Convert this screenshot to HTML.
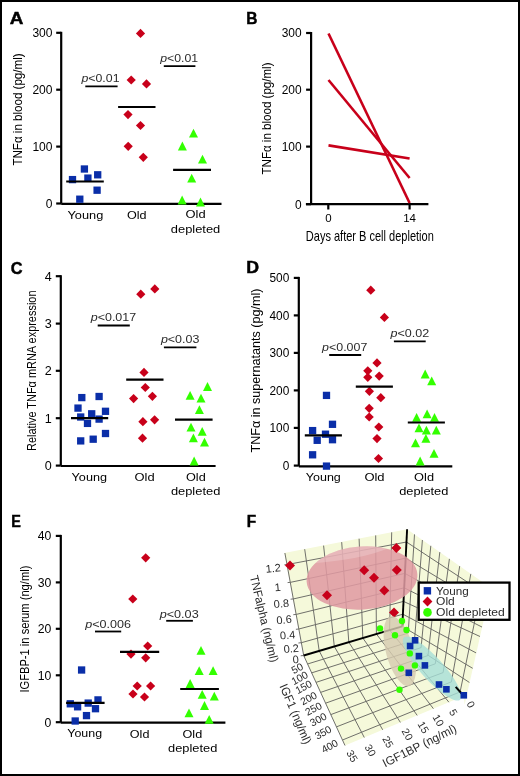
<!DOCTYPE html>
<html><head><meta charset="utf-8"><style>
html,body{margin:0;padding:0;background:#fff;}
svg{display:block;will-change:transform;}
text{font-family:"Liberation Sans", sans-serif;}
</style></head><body>
<svg width="520" height="776" viewBox="0 0 520 776">
<rect width="520" height="776" fill="#fff"/>
<rect x="1" y="1" width="518" height="774" fill="none" stroke="#000" stroke-width="2"/>
<text x="9.7" y="23.9" font-size="16" font-weight="bold" fill="#000" stroke="#000" stroke-width="0.45" textLength="13.6" lengthAdjust="spacingAndGlyphs">A</text>
<text x="246.3" y="23.9" font-size="16" font-weight="bold" fill="#000" stroke="#000" stroke-width="0.45" textLength="11.2" lengthAdjust="spacingAndGlyphs">B</text>
<text x="10.7" y="273.6" font-size="16" font-weight="bold" fill="#000" stroke="#000" stroke-width="0.45" textLength="11.8" lengthAdjust="spacingAndGlyphs">C</text>
<text x="246.3" y="272.9" font-size="16" font-weight="bold" fill="#000" stroke="#000" stroke-width="0.45" textLength="12.8" lengthAdjust="spacingAndGlyphs">D</text>
<text x="11.3" y="527.0" font-size="16" font-weight="bold" fill="#000" stroke="#000" stroke-width="0.45" textLength="9.6" lengthAdjust="spacingAndGlyphs">E</text>
<text x="246.7" y="527.0" font-size="16" font-weight="bold" fill="#000" stroke="#000" stroke-width="0.45" textLength="9.4" lengthAdjust="spacingAndGlyphs">F</text>
<line x1="61.20" y1="31.80" x2="61.20" y2="203.50" stroke="#000" stroke-width="2.2"/>
<line x1="56.20" y1="32.80" x2="61.20" y2="32.80" stroke="#000" stroke-width="2.2"/>
<text x="32.40" y="37.10" font-size="12" textLength="20.10" lengthAdjust="spacingAndGlyphs">300</text>
<line x1="56.20" y1="89.70" x2="61.20" y2="89.70" stroke="#000" stroke-width="2.2"/>
<text x="32.40" y="94.00" font-size="12" textLength="20.10" lengthAdjust="spacingAndGlyphs">200</text>
<line x1="56.20" y1="146.60" x2="61.20" y2="146.60" stroke="#000" stroke-width="2.2"/>
<text x="32.40" y="150.90" font-size="12" textLength="20.10" lengthAdjust="spacingAndGlyphs">100</text>
<line x1="56.20" y1="203.50" x2="61.20" y2="203.50" stroke="#000" stroke-width="2.2"/>
<text x="45.80" y="207.80" font-size="12" textLength="6.70" lengthAdjust="spacingAndGlyphs">0</text>
<line x1="61.20" y1="203.90" x2="221.50" y2="203.90" stroke="#000" stroke-width="2.2"/>
<text x="22.50" y="165.60" font-size="13.5" textLength="112.20" lengthAdjust="spacingAndGlyphs" transform="rotate(-90 22.50 165.60)">TNFα in blood (pg/ml)</text>
<rect x="68.85" y="175.95" width="7.3" height="7.3" fill="#0a2ea8"/>
<rect x="80.75" y="165.35" width="7.3" height="7.3" fill="#0a2ea8"/>
<rect x="84.25" y="174.45" width="7.3" height="7.3" fill="#0a2ea8"/>
<rect x="94.05" y="171.15" width="7.3" height="7.3" fill="#0a2ea8"/>
<rect x="93.45" y="186.55" width="7.3" height="7.3" fill="#0a2ea8"/>
<rect x="76.15" y="195.55" width="7.3" height="7.3" fill="#0a2ea8"/>
<path d="M140.50 28.80L145.10 33.40L140.50 38.00L135.90 33.40Z" fill="#c8001a"/>
<path d="M131.20 75.40L135.80 80.00L131.20 84.60L126.60 80.00Z" fill="#c8001a"/>
<path d="M146.50 79.30L151.10 83.90L146.50 88.50L141.90 83.90Z" fill="#c8001a"/>
<path d="M128.00 110.00L132.60 114.60L128.00 119.20L123.40 114.60Z" fill="#c8001a"/>
<path d="M140.50 120.90L145.10 125.50L140.50 130.10L135.90 125.50Z" fill="#c8001a"/>
<path d="M128.20 141.70L132.80 146.30L128.20 150.90L123.60 146.30Z" fill="#c8001a"/>
<path d="M143.30 152.70L147.90 157.30L143.30 161.90L138.70 157.30Z" fill="#c8001a"/>
<path d="M193.50 128.80L198.00 137.60L189.00 137.60Z" fill="#33ff00"/>
<path d="M182.40 141.60L186.90 150.40L177.90 150.40Z" fill="#33ff00"/>
<path d="M202.50 154.80L207.00 163.60L198.00 163.60Z" fill="#33ff00"/>
<path d="M191.70 173.80L196.20 182.60L187.20 182.60Z" fill="#33ff00"/>
<path d="M182.10 195.60L186.60 204.40L177.60 204.40Z" fill="#33ff00"/>
<path d="M200.50 197.60L205.00 206.40L196.00 206.40Z" fill="#33ff00"/>
<line x1="66.20" y1="181.50" x2="103.80" y2="181.50" stroke="#000" stroke-width="2.2"/>
<line x1="118.10" y1="107.00" x2="155.50" y2="107.00" stroke="#000" stroke-width="2.2"/>
<line x1="173.10" y1="169.80" x2="211.00" y2="169.80" stroke="#000" stroke-width="2.2"/>
<text x="81.50" y="81.70" font-size="11" textLength="38.00" lengthAdjust="spacingAndGlyphs" fill="#2b2b2b"><tspan font-style="italic">p</tspan>&lt;0.01</text>
<line x1="85.30" y1="86.30" x2="117.60" y2="86.30" stroke="#000" stroke-width="1.8"/>
<text x="160.30" y="61.90" font-size="11" textLength="37.90" lengthAdjust="spacingAndGlyphs" fill="#2b2b2b"><tspan font-style="italic">p</tspan>&lt;0.01</text>
<line x1="163.80" y1="66.20" x2="195.40" y2="66.20" stroke="#000" stroke-width="1.8"/>
<text x="67.50" y="218.50" font-size="11.8" textLength="35.80" lengthAdjust="spacingAndGlyphs">Young</text>
<text x="126.90" y="218.50" font-size="11.8" textLength="19.60" lengthAdjust="spacingAndGlyphs">Old</text>
<text x="185.50" y="218.40" font-size="11.8" textLength="20.10" lengthAdjust="spacingAndGlyphs">Old</text>
<text x="170.80" y="233.00" font-size="11.8" textLength="49.50" lengthAdjust="spacingAndGlyphs">depleted</text>
<line x1="311.10" y1="32.00" x2="311.10" y2="204.20" stroke="#000" stroke-width="2.2"/>
<line x1="306.10" y1="33.00" x2="311.10" y2="33.00" stroke="#000" stroke-width="2.2"/>
<text x="281.65" y="37.30" font-size="12" textLength="19.95" lengthAdjust="spacingAndGlyphs">300</text>
<line x1="306.10" y1="89.70" x2="311.10" y2="89.70" stroke="#000" stroke-width="2.2"/>
<text x="281.65" y="94.00" font-size="12" textLength="19.95" lengthAdjust="spacingAndGlyphs">200</text>
<line x1="306.10" y1="146.60" x2="311.10" y2="146.60" stroke="#000" stroke-width="2.2"/>
<text x="281.65" y="150.90" font-size="12" textLength="19.95" lengthAdjust="spacingAndGlyphs">100</text>
<line x1="306.10" y1="204.20" x2="311.10" y2="204.20" stroke="#000" stroke-width="2.2"/>
<text x="294.95" y="208.50" font-size="12" textLength="6.65" lengthAdjust="spacingAndGlyphs">0</text>
<line x1="305.90" y1="204.20" x2="428.40" y2="204.20" stroke="#000" stroke-width="2.2"/>
<line x1="328.30" y1="204.20" x2="328.30" y2="209.50" stroke="#000" stroke-width="2.2"/>
<line x1="409.60" y1="204.20" x2="409.60" y2="209.50" stroke="#000" stroke-width="2.2"/>
<text x="325.30" y="221.50" font-size="11" textLength="6.40" lengthAdjust="spacingAndGlyphs">0</text>
<text x="403.20" y="221.50" font-size="11" textLength="12.80" lengthAdjust="spacingAndGlyphs">14</text>
<text x="305.80" y="241.20" font-size="14.5" textLength="128.00" lengthAdjust="spacingAndGlyphs">Days after B cell depletion</text>
<text x="270.90" y="174.50" font-size="13.5" textLength="112.00" lengthAdjust="spacingAndGlyphs" transform="rotate(-90 270.90 174.50)">TNFα in blood (pg/ml)</text>
<line x1="328.50" y1="33.50" x2="409.60" y2="203.00" stroke="#c8001a" stroke-width="2.6"/>
<line x1="328.50" y1="80.00" x2="409.60" y2="178.00" stroke="#c8001a" stroke-width="2.6"/>
<line x1="328.50" y1="145.40" x2="409.60" y2="158.50" stroke="#c8001a" stroke-width="2.6"/>
<line x1="60.80" y1="275.20" x2="60.80" y2="465.60" stroke="#000" stroke-width="2.2"/>
<line x1="55.80" y1="276.20" x2="60.80" y2="276.20" stroke="#000" stroke-width="2.2"/>
<text x="44.70" y="280.50" font-size="12" textLength="7.00" lengthAdjust="spacingAndGlyphs">4</text>
<line x1="55.80" y1="323.60" x2="60.80" y2="323.60" stroke="#000" stroke-width="2.2"/>
<text x="44.70" y="327.90" font-size="12" textLength="7.00" lengthAdjust="spacingAndGlyphs">3</text>
<line x1="55.80" y1="370.80" x2="60.80" y2="370.80" stroke="#000" stroke-width="2.2"/>
<text x="44.70" y="375.10" font-size="12" textLength="7.00" lengthAdjust="spacingAndGlyphs">2</text>
<line x1="55.80" y1="418.20" x2="60.80" y2="418.20" stroke="#000" stroke-width="2.2"/>
<text x="44.70" y="422.50" font-size="12" textLength="7.00" lengthAdjust="spacingAndGlyphs">1</text>
<line x1="55.80" y1="465.60" x2="60.80" y2="465.60" stroke="#000" stroke-width="2.2"/>
<text x="44.70" y="469.90" font-size="12" textLength="7.00" lengthAdjust="spacingAndGlyphs">0</text>
<line x1="60.80" y1="466.00" x2="215.60" y2="466.00" stroke="#000" stroke-width="2.2"/>
<text x="35.90" y="451.00" font-size="13.5" textLength="160.50" lengthAdjust="spacingAndGlyphs" transform="rotate(-90 35.90 451.00)">Relative TNFα mRNA expression</text>
<rect x="78.15" y="393.95" width="7.3" height="7.3" fill="#0a2ea8"/>
<rect x="95.45" y="392.85" width="7.3" height="7.3" fill="#0a2ea8"/>
<rect x="74.35" y="404.45" width="7.3" height="7.3" fill="#0a2ea8"/>
<rect x="101.85" y="407.65" width="7.3" height="7.3" fill="#0a2ea8"/>
<rect x="77.05" y="413.35" width="7.3" height="7.3" fill="#0a2ea8"/>
<rect x="88.05" y="410.15" width="7.3" height="7.3" fill="#0a2ea8"/>
<rect x="83.85" y="419.75" width="7.3" height="7.3" fill="#0a2ea8"/>
<rect x="95.45" y="415.45" width="7.3" height="7.3" fill="#0a2ea8"/>
<rect x="101.85" y="429.85" width="7.3" height="7.3" fill="#0a2ea8"/>
<rect x="77.05" y="437.25" width="7.3" height="7.3" fill="#0a2ea8"/>
<rect x="89.55" y="435.55" width="7.3" height="7.3" fill="#0a2ea8"/>
<path d="M140.80 289.60L145.40 294.20L140.80 298.80L136.20 294.20Z" fill="#c8001a"/>
<path d="M154.80 284.30L159.40 288.90L154.80 293.50L150.20 288.90Z" fill="#c8001a"/>
<path d="M144.00 367.80L148.60 372.40L144.00 377.00L139.40 372.40Z" fill="#c8001a"/>
<path d="M145.30 382.90L149.90 387.50L145.30 392.10L140.70 387.50Z" fill="#c8001a"/>
<path d="M133.60 394.00L138.20 398.60L133.60 403.20L129.00 398.60Z" fill="#c8001a"/>
<path d="M152.40 391.70L157.00 396.30L152.40 400.90L147.80 396.30Z" fill="#c8001a"/>
<path d="M142.90 417.10L147.50 421.70L142.90 426.30L138.30 421.70Z" fill="#c8001a"/>
<path d="M154.60 415.20L159.20 419.80L154.60 424.40L150.00 419.80Z" fill="#c8001a"/>
<path d="M142.50 433.60L147.10 438.20L142.50 442.80L137.90 438.20Z" fill="#c8001a"/>
<path d="M207.50 382.10L212.00 390.90L203.00 390.90Z" fill="#33ff00"/>
<path d="M190.10 391.00L194.60 399.80L185.60 399.80Z" fill="#33ff00"/>
<path d="M201.00 393.70L205.50 402.50L196.50 402.50Z" fill="#33ff00"/>
<path d="M199.40 405.30L203.90 414.10L194.90 414.10Z" fill="#33ff00"/>
<path d="M191.00 422.70L195.50 431.50L186.50 431.50Z" fill="#33ff00"/>
<path d="M202.20 426.90L206.70 435.70L197.70 435.70Z" fill="#33ff00"/>
<path d="M193.40 433.40L197.90 442.20L188.90 442.20Z" fill="#33ff00"/>
<path d="M204.50 437.80L209.00 446.60L200.00 446.60Z" fill="#33ff00"/>
<path d="M194.10 456.60L198.60 465.40L189.60 465.40Z" fill="#33ff00"/>
<line x1="71.00" y1="418.10" x2="108.20" y2="418.10" stroke="#000" stroke-width="2.2"/>
<line x1="126.20" y1="379.60" x2="163.50" y2="379.60" stroke="#000" stroke-width="2.2"/>
<line x1="175.00" y1="419.70" x2="212.60" y2="419.70" stroke="#000" stroke-width="2.2"/>
<text x="90.70" y="321.10" font-size="11" textLength="45.50" lengthAdjust="spacingAndGlyphs" fill="#2b2b2b"><tspan font-style="italic">p</tspan>&lt;0.017</text>
<line x1="97.70" y1="325.50" x2="129.80" y2="325.50" stroke="#000" stroke-width="1.8"/>
<text x="160.90" y="342.90" font-size="11" textLength="38.50" lengthAdjust="spacingAndGlyphs" fill="#2b2b2b"><tspan font-style="italic">p</tspan>&lt;0.03</text>
<line x1="163.90" y1="347.40" x2="196.40" y2="347.40" stroke="#000" stroke-width="1.8"/>
<text x="71.60" y="480.50" font-size="11.8" textLength="35.40" lengthAdjust="spacingAndGlyphs">Young</text>
<text x="134.50" y="480.50" font-size="11.8" textLength="20.10" lengthAdjust="spacingAndGlyphs">Old</text>
<text x="186.00" y="480.70" font-size="11.8" textLength="19.70" lengthAdjust="spacingAndGlyphs">Old</text>
<text x="170.90" y="495.00" font-size="11.8" textLength="49.40" lengthAdjust="spacingAndGlyphs">depleted</text>
<line x1="298.80" y1="276.90" x2="298.80" y2="466.00" stroke="#000" stroke-width="2.2"/>
<line x1="293.80" y1="277.90" x2="298.80" y2="277.90" stroke="#000" stroke-width="2.2"/>
<text x="269.50" y="282.20" font-size="12" textLength="19.80" lengthAdjust="spacingAndGlyphs">500</text>
<line x1="293.80" y1="315.40" x2="298.80" y2="315.40" stroke="#000" stroke-width="2.2"/>
<text x="269.50" y="319.70" font-size="12" textLength="19.80" lengthAdjust="spacingAndGlyphs">400</text>
<line x1="293.80" y1="352.90" x2="298.80" y2="352.90" stroke="#000" stroke-width="2.2"/>
<text x="269.50" y="357.20" font-size="12" textLength="19.80" lengthAdjust="spacingAndGlyphs">300</text>
<line x1="293.80" y1="390.40" x2="298.80" y2="390.40" stroke="#000" stroke-width="2.2"/>
<text x="269.50" y="394.70" font-size="12" textLength="19.80" lengthAdjust="spacingAndGlyphs">200</text>
<line x1="293.80" y1="427.90" x2="298.80" y2="427.90" stroke="#000" stroke-width="2.2"/>
<text x="269.50" y="432.20" font-size="12" textLength="19.80" lengthAdjust="spacingAndGlyphs">100</text>
<line x1="293.80" y1="465.60" x2="298.80" y2="465.60" stroke="#000" stroke-width="2.2"/>
<text x="282.70" y="469.90" font-size="12" textLength="6.60" lengthAdjust="spacingAndGlyphs">0</text>
<line x1="298.80" y1="466.40" x2="452.30" y2="466.40" stroke="#000" stroke-width="2.2"/>
<text x="259.90" y="452.50" font-size="12.5" textLength="164.00" lengthAdjust="spacingAndGlyphs" transform="rotate(-90 259.90 452.50)">TNFα in supernatants (pg/ml)</text>
<rect x="322.85" y="391.75" width="7.3" height="7.3" fill="#0a2ea8"/>
<rect x="308.95" y="426.95" width="7.3" height="7.3" fill="#0a2ea8"/>
<rect x="328.85" y="420.65" width="7.3" height="7.3" fill="#0a2ea8"/>
<rect x="321.85" y="430.55" width="7.3" height="7.3" fill="#0a2ea8"/>
<rect x="313.55" y="436.65" width="7.3" height="7.3" fill="#0a2ea8"/>
<rect x="328.85" y="436.05" width="7.3" height="7.3" fill="#0a2ea8"/>
<rect x="308.95" y="451.15" width="7.3" height="7.3" fill="#0a2ea8"/>
<rect x="322.85" y="462.45" width="7.3" height="7.3" fill="#0a2ea8"/>
<path d="M370.80 285.60L375.40 290.20L370.80 294.80L366.20 290.20Z" fill="#c8001a"/>
<path d="M384.40 312.80L389.00 317.40L384.40 322.00L379.80 317.40Z" fill="#c8001a"/>
<path d="M377.00 358.30L381.60 362.90L377.00 367.50L372.40 362.90Z" fill="#c8001a"/>
<path d="M367.80 366.20L372.40 370.80L367.80 375.40L363.20 370.80Z" fill="#c8001a"/>
<path d="M367.80 372.70L372.40 377.30L367.80 381.90L363.20 377.30Z" fill="#c8001a"/>
<path d="M379.20 371.50L383.80 376.10L379.20 380.70L374.60 376.10Z" fill="#c8001a"/>
<path d="M369.40 386.70L374.00 391.30L369.40 395.90L364.80 391.30Z" fill="#c8001a"/>
<path d="M380.80 393.10L385.40 397.70L380.80 402.30L376.20 397.70Z" fill="#c8001a"/>
<path d="M369.20 403.70L373.80 408.30L369.20 412.90L364.60 408.30Z" fill="#c8001a"/>
<path d="M369.20 412.40L373.80 417.00L369.20 421.60L364.60 417.00Z" fill="#c8001a"/>
<path d="M378.80 422.40L383.40 427.00L378.80 431.60L374.20 427.00Z" fill="#c8001a"/>
<path d="M377.00 434.00L381.60 438.60L377.00 443.20L372.40 438.60Z" fill="#c8001a"/>
<path d="M378.50 453.90L383.10 458.50L378.50 463.10L373.90 458.50Z" fill="#c8001a"/>
<path d="M425.20 369.60L429.70 378.40L420.70 378.40Z" fill="#33ff00"/>
<path d="M431.70 376.40L436.20 385.20L427.20 385.20Z" fill="#33ff00"/>
<path d="M427.10 409.50L431.60 418.30L422.60 418.30Z" fill="#33ff00"/>
<path d="M416.60 413.00L421.10 421.80L412.10 421.80Z" fill="#33ff00"/>
<path d="M434.50 413.00L439.00 421.80L430.00 421.80Z" fill="#33ff00"/>
<path d="M419.00 423.40L423.50 432.20L414.50 432.20Z" fill="#33ff00"/>
<path d="M426.40 425.70L430.90 434.50L421.90 434.50Z" fill="#33ff00"/>
<path d="M436.30 425.70L440.80 434.50L431.80 434.50Z" fill="#33ff00"/>
<path d="M425.90 433.90L430.40 442.70L421.40 442.70Z" fill="#33ff00"/>
<path d="M415.50 438.50L420.00 447.30L411.00 447.30Z" fill="#33ff00"/>
<path d="M434.00 448.90L438.50 457.70L429.50 457.70Z" fill="#33ff00"/>
<path d="M420.10 456.60L424.60 465.40L415.60 465.40Z" fill="#33ff00"/>
<line x1="304.80" y1="435.40" x2="341.90" y2="435.40" stroke="#000" stroke-width="2.2"/>
<line x1="355.80" y1="386.70" x2="392.90" y2="386.70" stroke="#000" stroke-width="2.2"/>
<line x1="407.80" y1="422.50" x2="444.90" y2="422.50" stroke="#000" stroke-width="2.2"/>
<text x="322.10" y="351.30" font-size="11" textLength="45.20" lengthAdjust="spacingAndGlyphs" fill="#2b2b2b"><tspan font-style="italic">p</tspan>&lt;0.007</text>
<line x1="329.20" y1="355.00" x2="361.20" y2="355.00" stroke="#000" stroke-width="1.8"/>
<text x="390.40" y="336.60" font-size="11" textLength="38.80" lengthAdjust="spacingAndGlyphs" fill="#2b2b2b"><tspan font-style="italic">p</tspan>&lt;0.02</text>
<line x1="393.90" y1="341.30" x2="425.70" y2="341.30" stroke="#000" stroke-width="1.8"/>
<text x="305.80" y="481.00" font-size="11.8" textLength="35.00" lengthAdjust="spacingAndGlyphs">Young</text>
<text x="364.40" y="481.00" font-size="11.8" textLength="20.20" lengthAdjust="spacingAndGlyphs">Old</text>
<text x="414.10" y="480.50" font-size="11.8" textLength="19.90" lengthAdjust="spacingAndGlyphs">Old</text>
<text x="399.20" y="495.00" font-size="11.8" textLength="49.20" lengthAdjust="spacingAndGlyphs">depleted</text>
<line x1="60.80" y1="534.90" x2="60.80" y2="722.20" stroke="#000" stroke-width="2.2"/>
<line x1="55.80" y1="535.90" x2="60.80" y2="535.90" stroke="#000" stroke-width="2.2"/>
<text x="37.80" y="540.20" font-size="12" textLength="13.60" lengthAdjust="spacingAndGlyphs">40</text>
<line x1="55.80" y1="582.40" x2="60.80" y2="582.40" stroke="#000" stroke-width="2.2"/>
<text x="37.80" y="586.70" font-size="12" textLength="13.60" lengthAdjust="spacingAndGlyphs">30</text>
<line x1="55.80" y1="628.80" x2="60.80" y2="628.80" stroke="#000" stroke-width="2.2"/>
<text x="37.80" y="633.10" font-size="12" textLength="13.60" lengthAdjust="spacingAndGlyphs">20</text>
<line x1="55.80" y1="675.30" x2="60.80" y2="675.30" stroke="#000" stroke-width="2.2"/>
<text x="37.80" y="679.60" font-size="12" textLength="13.60" lengthAdjust="spacingAndGlyphs">10</text>
<line x1="55.80" y1="722.20" x2="60.80" y2="722.20" stroke="#000" stroke-width="2.2"/>
<text x="44.60" y="726.50" font-size="12" textLength="6.80" lengthAdjust="spacingAndGlyphs">0</text>
<line x1="60.80" y1="722.60" x2="225.40" y2="722.60" stroke="#000" stroke-width="2.2"/>
<text x="28.60" y="692.60" font-size="13.5" textLength="127.00" lengthAdjust="spacingAndGlyphs" transform="rotate(-90 28.60 692.60)">IGFBP-1 in serum (ng/ml)</text>
<rect x="77.95" y="666.35" width="7.3" height="7.3" fill="#0a2ea8"/>
<rect x="66.65" y="700.15" width="7.3" height="7.3" fill="#0a2ea8"/>
<rect x="73.95" y="703.15" width="7.3" height="7.3" fill="#0a2ea8"/>
<rect x="84.55" y="699.45" width="7.3" height="7.3" fill="#0a2ea8"/>
<rect x="94.35" y="696.25" width="7.3" height="7.3" fill="#0a2ea8"/>
<rect x="91.85" y="705.05" width="7.3" height="7.3" fill="#0a2ea8"/>
<rect x="82.85" y="711.95" width="7.3" height="7.3" fill="#0a2ea8"/>
<rect x="71.55" y="717.35" width="7.3" height="7.3" fill="#0a2ea8"/>
<path d="M145.70 553.20L150.30 557.80L145.70 562.40L141.10 557.80Z" fill="#c8001a"/>
<path d="M132.80 594.40L137.40 599.00L132.80 603.60L128.20 599.00Z" fill="#c8001a"/>
<path d="M147.70 641.40L152.30 646.00L147.70 650.60L143.10 646.00Z" fill="#c8001a"/>
<path d="M131.00 649.50L135.60 654.10L131.00 658.70L126.40 654.10Z" fill="#c8001a"/>
<path d="M145.70 653.20L150.30 657.80L145.70 662.40L141.10 657.80Z" fill="#c8001a"/>
<path d="M137.20 681.40L141.80 686.00L137.20 690.60L132.60 686.00Z" fill="#c8001a"/>
<path d="M150.60 681.40L155.20 686.00L150.60 690.60L146.00 686.00Z" fill="#c8001a"/>
<path d="M133.00 689.40L137.60 694.00L133.00 698.60L128.40 694.00Z" fill="#c8001a"/>
<path d="M144.50 692.40L149.10 697.00L144.50 701.60L139.90 697.00Z" fill="#c8001a"/>
<path d="M201.00 645.90L205.50 654.70L196.50 654.70Z" fill="#33ff00"/>
<path d="M199.20 666.30L203.70 675.10L194.70 675.10Z" fill="#33ff00"/>
<path d="M213.10 666.30L217.60 675.10L208.60 675.10Z" fill="#33ff00"/>
<path d="M190.10 679.10L194.60 687.90L185.60 687.90Z" fill="#33ff00"/>
<path d="M202.20 690.00L206.70 698.80L197.70 698.80Z" fill="#33ff00"/>
<path d="M214.30 691.80L218.80 700.60L209.80 700.60Z" fill="#33ff00"/>
<path d="M204.50 701.10L209.00 709.90L200.00 709.90Z" fill="#33ff00"/>
<path d="M189.00 708.50L193.50 717.30L184.50 717.30Z" fill="#33ff00"/>
<path d="M209.20 715.00L213.70 723.80L204.70 723.80Z" fill="#33ff00"/>
<line x1="66.10" y1="702.90" x2="104.60" y2="702.90" stroke="#000" stroke-width="2.2"/>
<line x1="120.00" y1="651.80" x2="159.20" y2="651.80" stroke="#000" stroke-width="2.2"/>
<line x1="180.20" y1="689.00" x2="218.90" y2="689.00" stroke="#000" stroke-width="2.2"/>
<text x="85.20" y="628.00" font-size="11" textLength="45.80" lengthAdjust="spacingAndGlyphs" fill="#2b2b2b"><tspan font-style="italic">p</tspan>&lt;0.006</text>
<line x1="95.00" y1="631.50" x2="121.20" y2="631.50" stroke="#000" stroke-width="1.8"/>
<text x="159.70" y="617.50" font-size="11" textLength="39.00" lengthAdjust="spacingAndGlyphs" fill="#2b2b2b"><tspan font-style="italic">p</tspan>&lt;0.03</text>
<line x1="166.20" y1="620.80" x2="192.90" y2="620.80" stroke="#000" stroke-width="1.8"/>
<text x="67.30" y="737.40" font-size="11.8" textLength="34.80" lengthAdjust="spacingAndGlyphs">Young</text>
<text x="129.80" y="737.60" font-size="11.8" textLength="19.60" lengthAdjust="spacingAndGlyphs">Old</text>
<text x="182.50" y="737.80" font-size="11.8" textLength="19.70" lengthAdjust="spacingAndGlyphs">Old</text>
<text x="168.10" y="752.20" font-size="11.8" textLength="49.20" lengthAdjust="spacingAndGlyphs">depleted</text>
<polygon points="303.7,655.5 402.3,626.4 407.1,529.3 284.3,553.0" fill="#f5f9da"/>
<polygon points="402.3,626.4 463.8,696.0 464.6,704.8 491.0,588.0 407.1,529.3" fill="#f5f9da"/>
<polygon points="303.7,655.5 402.3,626.4 463.8,696.0 345.0,745.5" fill="#f5f9da"/>
<polyline points="301.4,642.7 402.9,614.2" fill="none" stroke="#686864" stroke-width="0.95"/>
<polyline points="298.9,629.0 403.5,601.4" fill="none" stroke="#686864" stroke-width="0.95"/>
<polyline points="296.3,614.4 404.2,587.8" fill="none" stroke="#686864" stroke-width="0.95"/>
<polyline points="293.6,598.9 404.9,573.4" fill="none" stroke="#686864" stroke-width="0.95"/>
<polyline points="290.6,582.3 405.7,558.2" fill="none" stroke="#686864" stroke-width="0.95"/>
<polyline points="287.4,564.5 406.5,542.0" fill="none" stroke="#686864" stroke-width="0.95"/>
<clipPath id="rw"><polygon points="402.3,626.4 463.8,696.0 464.6,704.8 491.0,588.0 407.1,529.3"/></clipPath>
<path d="M398.4 704.9L452.0 760.3M398.8 696.6L454.1 751.1M399.2 687.9L456.3 741.4M399.7 678.8L458.7 731.1M400.1 669.3L461.1 720.1M400.6 659.4L463.8 708.4M401.1 648.9L466.6 696.0M401.7 637.9L469.6 682.6M402.3 626.4L472.8 668.4M402.9 614.2L476.3 653.0M403.5 601.4L480.0 636.5M404.2 587.8L482.1 627.1M404.9 573.4L484.3 617.3M405.7 558.2L486.7 607.1M406.5 542.0L489.1 596.4" fill="none" stroke="#686864" stroke-width="0.95" clip-path="url(#rw)"/>
<polyline points="448.9,702.2 389.6,630.1 391.7,532.3" fill="none" stroke="#686864" stroke-width="0.95"/>
<polyline points="433.4,708.7 376.4,634.0 375.7,535.4" fill="none" stroke="#686864" stroke-width="0.95"/>
<polyline points="417.2,715.4 362.8,638.0 359.1,538.7" fill="none" stroke="#686864" stroke-width="0.95"/>
<polyline points="400.4,722.4 348.8,642.2 341.7,542.1" fill="none" stroke="#686864" stroke-width="0.95"/>
<polyline points="382.7,729.8 334.3,646.5 323.6,545.6" fill="none" stroke="#686864" stroke-width="0.95"/>
<polyline points="364.3,737.5 319.2,650.9 304.7,549.2" fill="none" stroke="#686864" stroke-width="0.95"/>
<polyline points="345.0,745.5 303.7,655.5 284.9,553.0" fill="none" stroke="#686864" stroke-width="0.95"/>
<polyline points="307.5,664.0 408.2,633.1 414.5,534.4" fill="none" stroke="#686864" stroke-width="0.95"/>
<polyline points="311.6,672.9 414.5,640.2 422.4,540.0" fill="none" stroke="#686864" stroke-width="0.95"/>
<polyline points="316.0,682.4 421.1,647.6 430.8,545.8" fill="none" stroke="#686864" stroke-width="0.95"/>
<polyline points="320.6,692.4 428.0,655.5 439.8,552.1" fill="none" stroke="#686864" stroke-width="0.95"/>
<polyline points="325.6,703.2 435.3,663.8 449.4,558.9" fill="none" stroke="#686864" stroke-width="0.95"/>
<polyline points="330.8,714.6 443.1,672.6 459.7,566.1" fill="none" stroke="#686864" stroke-width="0.95"/>
<polyline points="336.4,726.9 451.4,681.9 470.8,573.9" fill="none" stroke="#686864" stroke-width="0.95"/>
<polyline points="342.5,740.0 460.1,691.9 482.8,582.3" fill="none" stroke="#686864" stroke-width="0.95"/>
<line x1="300.7" y1="655.8" x2="303.7" y2="655.5" stroke="#686864" stroke-width="0.95"/>
<line x1="298.4" y1="643.0" x2="301.4" y2="642.7" stroke="#686864" stroke-width="0.95"/>
<line x1="295.9" y1="629.3" x2="298.9" y2="629.0" stroke="#686864" stroke-width="0.95"/>
<line x1="293.3" y1="614.7" x2="296.3" y2="614.4" stroke="#686864" stroke-width="0.95"/>
<line x1="290.6" y1="599.2" x2="293.6" y2="598.9" stroke="#686864" stroke-width="0.95"/>
<line x1="287.6" y1="582.6" x2="290.6" y2="582.3" stroke="#686864" stroke-width="0.95"/>
<line x1="284.4" y1="564.8" x2="287.4" y2="564.5" stroke="#686864" stroke-width="0.95"/>
<line x1="303.7" y1="655.5" x2="402.3" y2="626.4" stroke="#000" stroke-width="1.9"/>
<line x1="402.3" y1="626.4" x2="407.1" y2="529.3" stroke="#000" stroke-width="1.9"/>
<ellipse cx="362" cy="578" rx="55.5" ry="31.6" transform="rotate(-4 362 578)" fill="#df9aa2" fill-opacity="0.86"/>
<clipPath id="pkc"><ellipse cx="362" cy="578" rx="55.5" ry="31.6" transform="rotate(-4 362 578)"/></clipPath>
<g clip-path="url(#pkc)"><ellipse cx="342" cy="548" rx="58" ry="12" transform="rotate(-9 342 548)" fill="#fff" fill-opacity="0.2"/></g>
<path d="M290.0 560.4L295.0 565.4L290.0 570.4L285.0 565.4Z" fill="#c8001a"/>
<path d="M327.0 590.3L332.0 595.3L327.0 600.3L322.0 595.3Z" fill="#c8001a"/>
<path d="M364.2 565.2L369.2 570.2L364.2 575.2L359.2 570.2Z" fill="#c8001a"/>
<path d="M374.0 572.7L379.0 577.7L374.0 582.7L369.0 577.7Z" fill="#c8001a"/>
<path d="M384.3 585.5L389.3 590.5L384.3 595.5L379.3 590.5Z" fill="#c8001a"/>
<path d="M396.3 543.0L401.3 548.0L396.3 553.0L391.3 548.0Z" fill="#c8001a"/>
<path d="M396.8 565.0L401.8 570.0L396.8 575.0L391.8 570.0Z" fill="#c8001a"/>
<path d="M394.0 607.5L399.0 612.5L394.0 617.5L389.0 612.5Z" fill="#c8001a"/>
<ellipse cx="399.8" cy="651.2" rx="36" ry="13.8" transform="rotate(75 399.8 651.2)" fill="#d5cab0" fill-opacity="0.82"/>
<ellipse cx="432" cy="668.5" rx="42" ry="11.2" transform="rotate(48 432 668.5)" fill="#a6ded7" fill-opacity="0.8"/>
<line x1="455.7" y1="686.8" x2="463.8" y2="696.0" stroke="#000" stroke-width="2"/>
<circle cx="380" cy="628.4" r="3.2" fill="#33ff00"/>
<circle cx="402" cy="621" r="3.2" fill="#33ff00"/>
<circle cx="406.5" cy="630" r="3.2" fill="#33ff00"/>
<circle cx="395" cy="635.2" r="3.2" fill="#33ff00"/>
<circle cx="409.8" cy="653.4" r="3.2" fill="#33ff00"/>
<circle cx="414.9" cy="665.4" r="3.2" fill="#33ff00"/>
<circle cx="401" cy="668.6" r="3.2" fill="#33ff00"/>
<circle cx="399.5" cy="689.8" r="3.2" fill="#33ff00"/>
<rect x="411.8" y="637.0" width="6.6" height="6.6" fill="#0a2ea8"/>
<rect x="406.8" y="642.7" width="6.6" height="6.6" fill="#0a2ea8"/>
<rect x="415.6" y="652.8" width="6.6" height="6.6" fill="#0a2ea8"/>
<rect x="421.6" y="662.1" width="6.6" height="6.6" fill="#0a2ea8"/>
<rect x="405.5" y="669.5" width="6.6" height="6.6" fill="#0a2ea8"/>
<rect x="435.7" y="681.2" width="6.6" height="6.6" fill="#0a2ea8"/>
<rect x="443.1" y="686.0" width="6.6" height="6.6" fill="#0a2ea8"/>
<rect x="460.5" y="692.0" width="6.6" height="6.6" fill="#0a2ea8"/>
<rect x="418.7" y="582.6" width="90.8" height="37.2" fill="#fff" stroke="#000" stroke-width="2.3"/>
<rect x="423.7" y="587.1" width="7.4" height="7.4" fill="#0a2ea8"/>
<path d="M427.5 596.6L432.4 601.5L427.5 606.4L422.6 601.5Z" fill="#c8001a"/>
<circle cx="427.5" cy="612.4" r="4.3" fill="#33ff00"/>
<text x="436.1" y="594.9" font-size="11.5" textLength="32.7" lengthAdjust="spacingAndGlyphs" fill="#2b2b2b">Young</text>
<text x="436.1" y="604.9" font-size="11.5" textLength="18.7" lengthAdjust="spacingAndGlyphs" fill="#2b2b2b">Old</text>
<text x="436.1" y="615.5" font-size="11.5" textLength="68.7" lengthAdjust="spacingAndGlyphs" fill="#2b2b2b">Old depleted</text>
<text x="273.6" y="572.0" font-size="11" text-anchor="middle" transform="rotate(-5 273.6 572.0)" fill="#2b2b2b">1.2</text>
<text x="278.0" y="591.0" font-size="11" text-anchor="middle" transform="rotate(-5 278.0 591.0)" fill="#2b2b2b">1</text>
<text x="281.7" y="607.3" font-size="11" text-anchor="middle" transform="rotate(-5 281.7 607.3)" fill="#2b2b2b">0.8</text>
<text x="284.4" y="623.5" font-size="11" text-anchor="middle" transform="rotate(-5 284.4 623.5)" fill="#2b2b2b">0.6</text>
<text x="288.0" y="638.9" font-size="11" text-anchor="middle" transform="rotate(-5 288.0 638.9)" fill="#2b2b2b">0.4</text>
<text x="291.6" y="652.4" font-size="11" text-anchor="middle" transform="rotate(-5 291.6 652.4)" fill="#2b2b2b">0.2</text>
<text x="296.0" y="663.2" font-size="11" text-anchor="middle" transform="rotate(-5 296.0 663.2)" fill="#2b2b2b">0</text>
<text x="249.8" y="576.5" font-size="12" textLength="89.0" lengthAdjust="spacingAndGlyphs" transform="rotate(76.5 249.8 576.5)" fill="#2b2b2b">TNFalpha (ng/ml)</text>
<text x="298.9" y="671.5" font-size="10.4" text-anchor="middle" transform="rotate(-28 298.9 671.5)" fill="#2b2b2b">50</text>
<text x="301.3" y="681.2" font-size="10.4" text-anchor="middle" transform="rotate(-28 301.3 681.2)" fill="#2b2b2b">100</text>
<text x="305.3" y="690.1" font-size="10.4" text-anchor="middle" transform="rotate(-28 305.3 690.1)" fill="#2b2b2b">150</text>
<text x="310.3" y="701.5" font-size="10.4" text-anchor="middle" transform="rotate(-28 310.3 701.5)" fill="#2b2b2b">200</text>
<text x="315.1" y="712.0" font-size="10.4" text-anchor="middle" transform="rotate(-28 315.1 712.0)" fill="#2b2b2b">250</text>
<text x="320.0" y="722.6" font-size="10.4" text-anchor="middle" transform="rotate(-28 320.0 722.6)" fill="#2b2b2b">300</text>
<text x="324.8" y="735.6" font-size="10.4" text-anchor="middle" transform="rotate(-28 324.8 735.6)" fill="#2b2b2b">350</text>
<text x="331.3" y="749.4" font-size="10.4" text-anchor="middle" transform="rotate(-28 331.3 749.4)" fill="#2b2b2b">400</text>
<text x="279.3" y="686.0" font-size="12" textLength="64.0" lengthAdjust="spacingAndGlyphs" transform="rotate(67 279.3 686.0)" fill="#2b2b2b">IGF1 (ng/ml)</text>
<text x="348.9" y="757.9" font-size="10.5" text-anchor="middle" transform="rotate(60 348.9 757.9)" fill="#2b2b2b">35</text>
<text x="367.2" y="752.2" font-size="10.5" text-anchor="middle" transform="rotate(60 367.2 752.2)" fill="#2b2b2b">30</text>
<text x="384.8" y="743.7" font-size="10.5" text-anchor="middle" transform="rotate(60 384.8 743.7)" fill="#2b2b2b">25</text>
<text x="404.2" y="736.2" font-size="10.5" text-anchor="middle" transform="rotate(60 404.2 736.2)" fill="#2b2b2b">20</text>
<text x="420.2" y="729.2" font-size="10.5" text-anchor="middle" transform="rotate(60 420.2 729.2)" fill="#2b2b2b">15</text>
<text x="435.2" y="722.2" font-size="10.5" text-anchor="middle" transform="rotate(60 435.2 722.2)" fill="#2b2b2b">10</text>
<text x="450.2" y="714.2" font-size="10.5" text-anchor="middle" transform="rotate(60 450.2 714.2)" fill="#2b2b2b">5</text>
<text x="467.7" y="706.2" font-size="10.5" text-anchor="middle" transform="rotate(60 467.7 706.2)" fill="#2b2b2b">0</text>
<text x="385.0" y="767.5" font-size="12" textLength="81.0" lengthAdjust="spacingAndGlyphs" transform="rotate(-26.5 385.0 767.5)" fill="#2b2b2b">IGF1BP (ng/ml)</text>
</svg>
</body></html>
